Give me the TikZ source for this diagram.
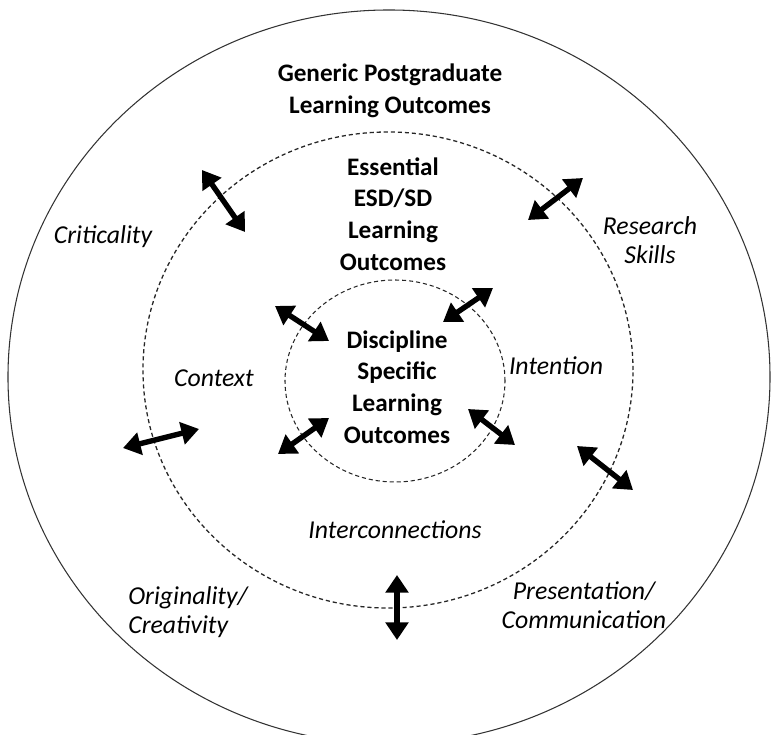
\documentclass[tikz,border=0pt]{standalone}
\usepackage{fontspec}
\setmainfont{Carlito}
\usetikzlibrary{arrows.meta}

\tikzset{
    ring/.style={draw=black!80, line width=0.9pt},
    dashring/.style={draw=black!85, line width=1.1pt, dash pattern=on 3.5pt off 2.5pt},
    link/.style={line width=4.6pt, {Triangle[length=15pt,width=19pt]}-{Triangle[length=15pt,width=19pt]}},
    title/.style={font=\fontsize{21.5}{27}\selectfont\bfseries, align=center},
    theme/.style={font=\fontsize{22}{25}\selectfont\itshape, align=center},
}

\begin{document}
\begin{tikzpicture}[x=0.03cm, y=-0.03cm]
    \clip (0,0) rectangle (771,735);

    \coordinate (O) at (389,377);
    \coordinate (M) at (388,370);
    \coordinate (I) at (395,381);

    \draw[ring] (O) ellipse [x radius=11.43cm, y radius=11.01cm];
    \draw[dashring] (M) ellipse [x radius=7.35cm, y radius=7.14cm];
    \draw[dashring, line width=0.9pt] (I) ellipse [x radius=3.30cm, y radius=3.03cm];

    \node[title] (gen) at (390,91) {Generic Postgraduate\\Learning Outcomes};
    \node[title] (esd) at (393,214) {Essential\\ESD/SD\\Learning\\Outcomes};
    \node[title] (dsc) at (397,387) {Discipline\\Specific\\Learning\\Outcomes};

    \node[theme] (crit) at (103,237) {Criticality};
    \node[theme] (res) at (650,240) {Research\\Skills};
    \node[theme] (ctx) at (214,378) {Context};
    \node[theme] (intent) at (556,366) {Intention};
    \node[theme] (inter) at (395,530) {Interconnections};
    \node[theme, align=left] (orig) at (188,612) {Originality/\\Creativity};
    \node[theme] (pres) at (584,605) {Presentation/\\Communication};

    \coordinate (a1) at (202,170);  \coordinate (b1) at (245,232);
    \coordinate (a2) at (583,178);  \coordinate (b2) at (528,220);
    \coordinate (a3) at (275,306);  \coordinate (b3) at (329,341);
    \coordinate (a4) at (493,288);  \coordinate (b4) at (443,322);
    \coordinate (a5) at (278,454);  \coordinate (b5) at (329,418);
    \coordinate (a6) at (468,409);  \coordinate (b6) at (515,445);
    \coordinate (a7) at (123,448);  \coordinate (b7) at (199,429);
    \coordinate (a8) at (577,446);  \coordinate (b8) at (633,490);
    \coordinate (a9) at (397,575);  \coordinate (b9) at (397,640);

    \foreach \i in {1,...,9}
        \draw[link] (a\i) -- (b\i);
\end{tikzpicture}
\end{document}
